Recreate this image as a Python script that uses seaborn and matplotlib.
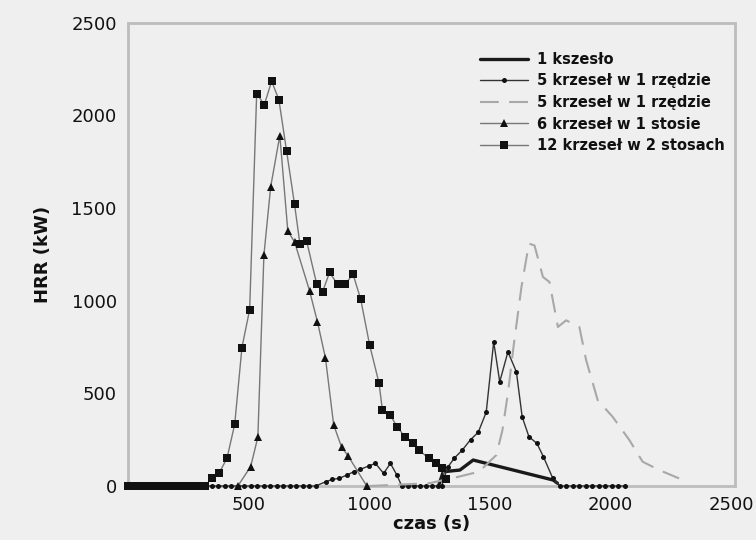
import matplotlib
matplotlib.use("Agg")
import matplotlib.pyplot as plt
import seaborn as sns

# ---------------- data ----------------
# 1 kszesło
t_1 = [1290, 1307, 1376, 1431, 1763, 1780]
hrr_1 = [10, 77, 86, 140, 32, 15]

# 5 krzeseł w 1 rzędzie (dots)
t_5a = [320, 347, 374, 401, 428, 455, 482, 509, 536, 563, 590, 617, 644, 671, 698,
        725, 752, 779, 820, 848, 875, 908, 936, 964, 998, 1026, 1060, 1088, 1115,
        1135, 1160, 1185, 1210, 1235, 1260, 1285, 1300, 1325, 1352, 1386, 1420,
        1452, 1485, 1516, 1541, 1575, 1610, 1634, 1662, 1695, 1722, 1761, 1790,
        1817, 1844, 1871, 1898, 1925, 1952, 1979, 2006, 2033, 2060]
hrr_5a = [0, 0, 0, 0, 0, 0, 0, 0, 0, 0, 0, 0, 0, 0, 0,
          0, 0, 0, 23, 36, 41, 59, 77, 90, 108, 122, 68, 122, 59,
          0, 0, 0, 0, 0, 0, 0, 0, 100, 149, 194, 250,
          290, 398, 778, 562, 724, 616, 373, 266, 230, 158, 41, 0,
          0, 0, 0, 0, 0, 0, 0, 0, 0, 0]

# 5 krzeseł w 1 rzędzie (dashed)
t_5b = [1000, 1250, 1370, 1455, 1527, 1552, 1575, 1597, 1631, 1662, 1685, 1720,
        1747, 1782, 1816, 1871, 1899, 1947, 2009, 2078, 2133, 2202, 2284]
hrr_5b = [0, 15, 50, 77, 167, 300, 500, 740, 1074, 1308, 1298, 1128,
          1101, 858, 894, 858, 679, 463, 373, 248, 131, 86, 41]

# 6 krzeseł w 1 stosie (triangles)
t_6 = [456, 509, 539, 564, 592, 630, 663, 691, 753, 786, 819, 853, 886, 913, 990]
hrr_6 = [0, 104, 264, 1245, 1614, 1891, 1376, 1317, 1054, 885, 691, 330, 209, 162, 0]

# 12 krzeseł w 2 stosach (squares)
t_12 = [0, 20, 40, 60, 80, 100, 120, 140, 160, 180, 200, 220, 240, 260, 280, 300, 320,
        347, 379, 411, 443, 473, 505, 534, 566, 596, 626, 658, 691, 713, 741, 783,
        807, 836, 869, 901, 933, 965, 1002, 1041, 1055, 1087, 1117, 1149, 1180,
        1206, 1246, 1276, 1302, 1318]
hrr_12 = [0, 0, 0, 0, 0, 0, 0, 0, 0, 0, 0, 0, 0, 0, 0, 0, 0,
          41, 72, 149, 333, 747, 952, 2116, 2058, 2184, 2085, 1807, 1519, 1308, 1322, 1088,
          1047, 1153, 1088, 1088, 1144, 1008, 761, 555, 409, 383, 318, 264, 232,
          195, 150, 123, 95, 40]

labels = ["1 kszesło", "5 krzeseł w 1 rzędzie", "5 krzeseł w 1 rzędzie",
          "6 krzeseł w 1 stosie", "12 krzeseł w 2 stosach"]
x_ticks = [500, 1000, 1500, 2000, 2500]
y_ticks = [0, 500, 1000, 1500, 2000, 2500]

# ---------------- style ----------------
sns.set_theme(style="white")
plt.rcParams['font.family'] = ['DejaVu Sans']
bg = "#efefef"

fig = plt.figure(figsize=(7.56, 5.4), dpi=100, facecolor=bg)
ax = fig.add_axes([0.169, 0.1, 0.803, 0.858])
ax.set_facecolor(bg)

sns.lineplot(x=t_1, y=hrr_1, ax=ax, color="#1a1a1a", linewidth=2.4,
             estimator=None, sort=False, label=labels[0])
sns.lineplot(x=t_5a, y=hrr_5a, ax=ax, color="#333333", linewidth=1.0,
             marker="o", markersize=3.6, markeredgewidth=0, markerfacecolor="#111111",
             estimator=None, sort=False, label=labels[1])
sns.lineplot(x=t_5b, y=hrr_5b, ax=ax, color="#a8a8a8", linewidth=1.5,
             estimator=None, sort=False, label=labels[2])
ax.lines[-1].set_dashes([9, 5])
sns.lineplot(x=t_6, y=hrr_6, ax=ax, color="#777777", linewidth=1.0,
             marker="^", markersize=6.0, markeredgewidth=0, markerfacecolor="#111111",
             estimator=None, sort=False, label=labels[3])
sns.lineplot(x=t_12, y=hrr_12, ax=ax, color="#777777", linewidth=1.0,
             marker="s", markersize=5.6, markeredgewidth=0, markerfacecolor="#111111",
             estimator=None, sort=False, label=labels[4])
for ln in ax.lines:
    ln.set_clip_on(False)

ax.set_xlim(0, 2515)
ax.set_ylim(0, 2500)
ax.set_xticks(x_ticks)
ax.set_yticks(y_ticks)
ax.set_xticklabels([str(v) for v in x_ticks])
ax.set_yticklabels([str(v) for v in y_ticks])

for s in ax.spines.values():
    s.set_color("#bdbdbd")
    s.set_linewidth(2.0)
    s.set_zorder(0.5)

ax.tick_params(axis="both", direction="in", length=8, width=1.6, color="#c4c4c4",
               labelsize=13, labelcolor="#111111")
ax.tick_params(axis="y", pad=8)
ax.tick_params(axis="x", pad=7)

ax.set_xlabel("czas (s)", fontsize=13, fontweight="bold", color="#111111", labelpad=1)
ax.set_ylabel("HRR (kW)", fontsize=13, fontweight="bold", color="#111111", labelpad=14)

leg = ax.legend(loc="upper left", bbox_to_anchor=(0.58, 0.937), frameon=False,
                prop={"weight": "bold", "size": 10.5}, handlelength=3.3,
                handletextpad=0.6, labelspacing=0.45, borderaxespad=0, borderpad=0)
for txt in leg.get_texts():
    txt.set_color("#111111")

fig.savefig("out.png", dpi=100, facecolor=bg)
